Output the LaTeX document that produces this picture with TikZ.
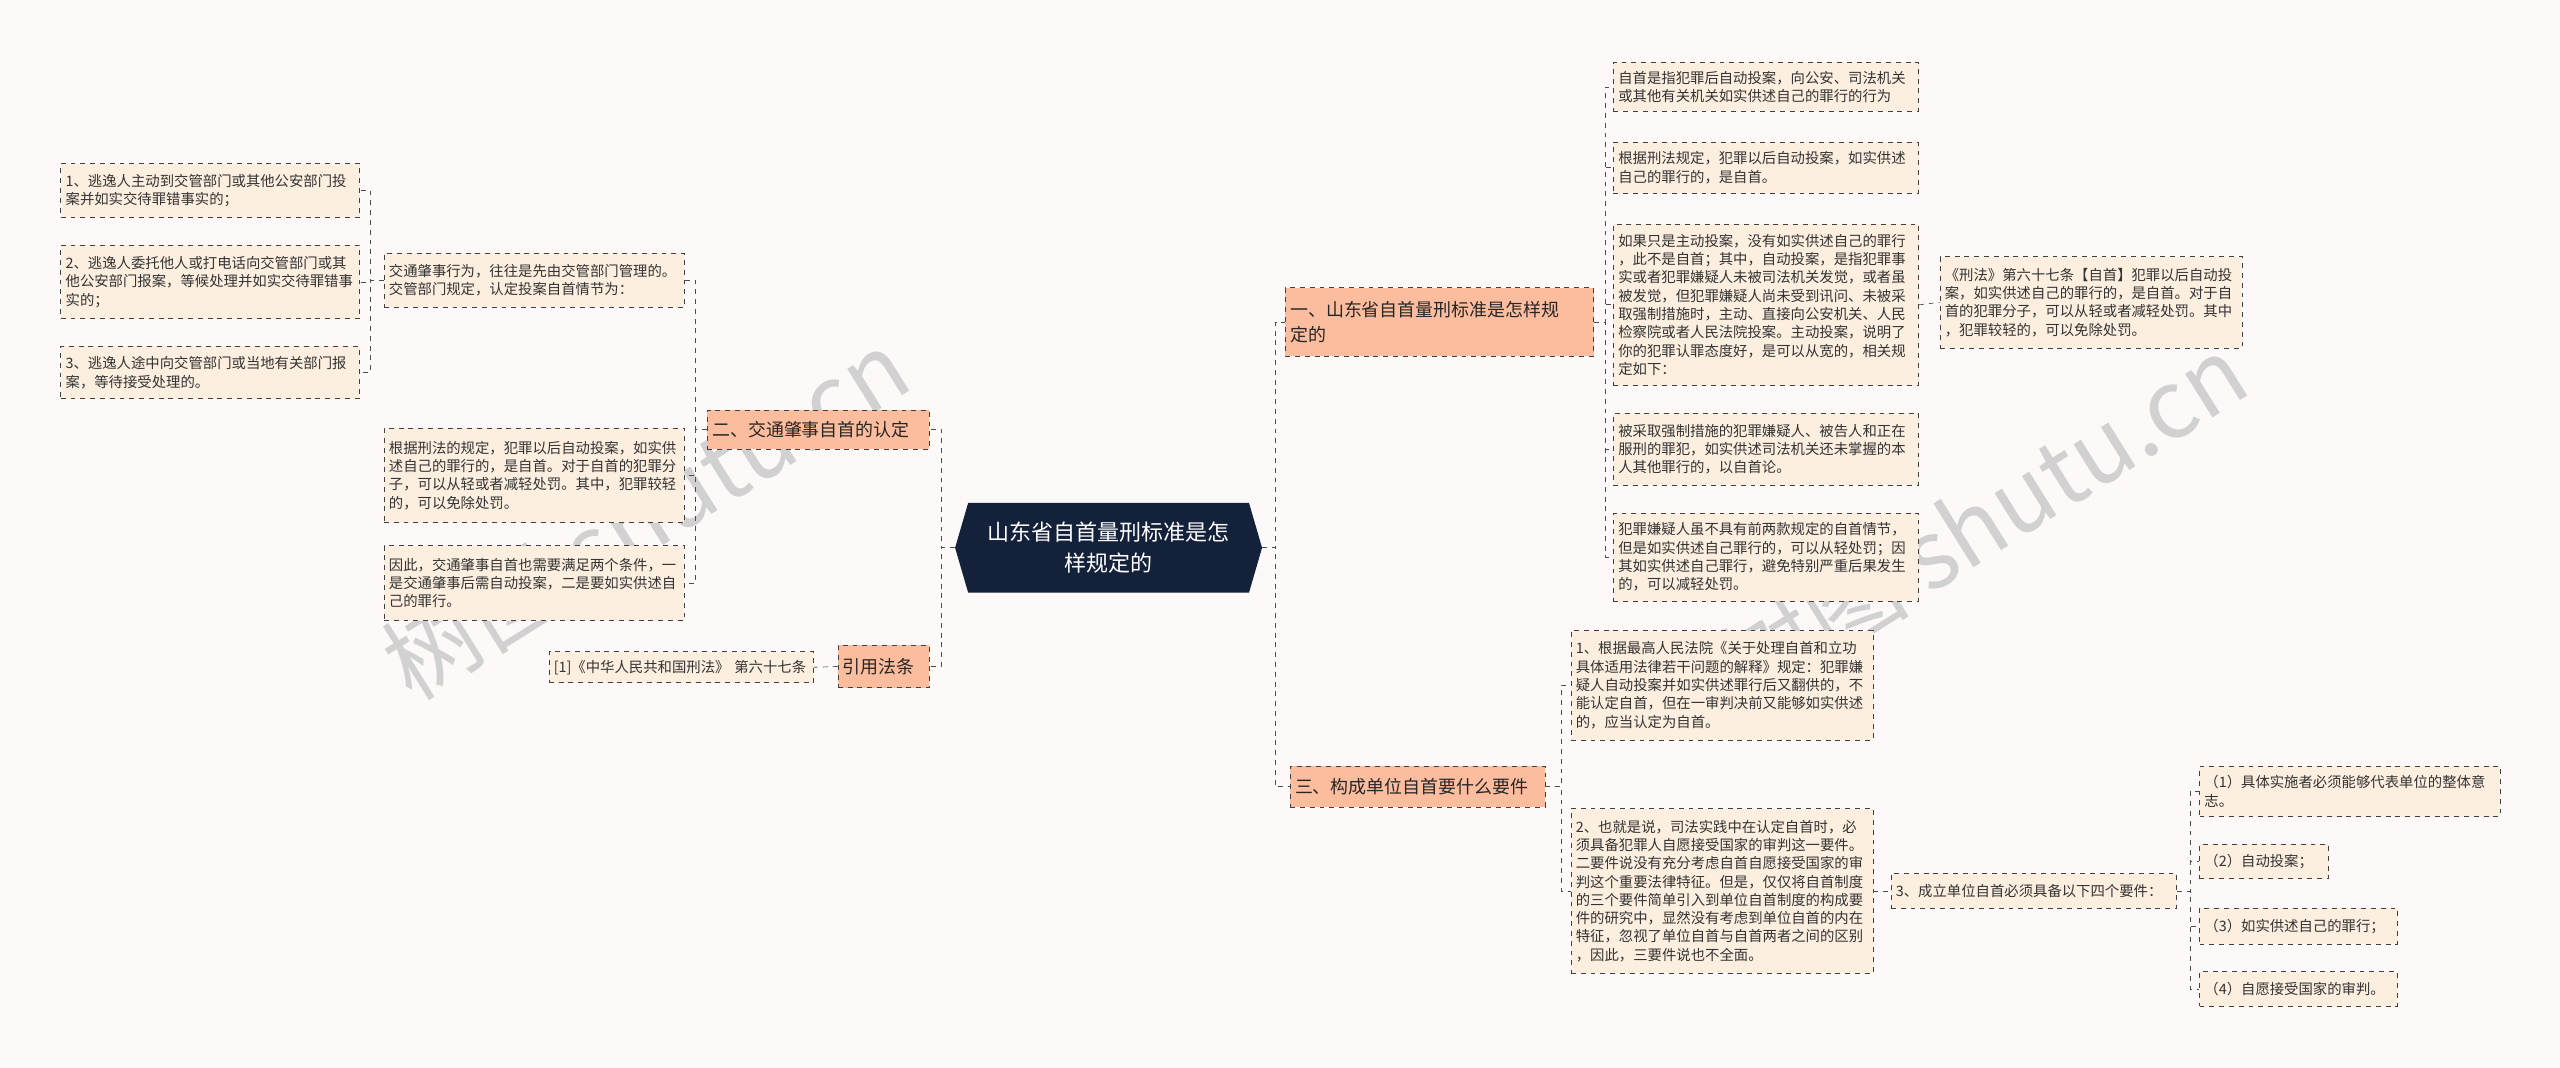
\documentclass[tikz,border=0pt]{standalone}
\usepackage{fontspec}
\setmainfont{Noto Sans CJK SC}
\XeTeXlinebreaklocale "zh"
\begin{document}
\begin{tikzpicture}[x=1pt,y=1pt,
  leaf/.style={draw=black!75, dashed, fill=leafc, inner sep=3pt, align=left, font=\fontsize{8.8}{11.2}\selectfont, text=black!80},
  branch/.style={draw=black!75, dashed, fill=branchc, inner sep=3pt, align=left, font=\fontsize{11}{15.5}\selectfont, text=black!85},
  conn/.style={draw=black!70, dashed, thin}]
\definecolor{bgc}{HTML}{FCF9F8}
\definecolor{leafc}{HTML}{FDEFDF}
\definecolor{branchc}{HTML}{FBBD9E}
\definecolor{navy}{HTML}{14213A}
\fill[bgc] (0,0) rectangle (1568,-654);
\useasboundingbox (0,0) rectangle (1568,-654);
\newcommand{\mkbox}[6]{%
  \pgfmathsetmacro\bw{#5-#3}\pgfmathsetmacro\bh{#6-#4}\pgfmathsetmacro\tw{#5-#3-5}%
  \node[#1, anchor=north west, minimum width=\bw pt, minimum height=\bh pt, text width=\tw pt] (#2) at (#3,-#4)}
% watermarks
\node[rotate=32, text=black!18, font=\fontsize{58}{60}\selectfont] at (395,-315) {树图 shutu.cn};
\node[rotate=32, text=black!18, font=\fontsize{58}{60}\selectfont] at (1215,-318) {树图 shutu.cn};
% center
\fill[navy] (585,-335.5) -- (593,-308) -- (765,-308) -- (773,-335.5) -- (765,-363) -- (593,-363) -- cycle;
\node[minimum width=188pt, minimum height=55pt, inner sep=0pt, align=center, text=white, font=\fontsize{13.5}{19}\selectfont] (c) at (679,-335.5) {山东省自首量刑标准是怎\\样规定的};
% left
\mkbox{branch}{b2}{433}{251}{568}{275}{二、交通肇事自首的认定};
\mkbox{branch}{b4}{513}{395}{568}{421}{引用法条};
\mkbox{leaf}{ref}{336}{399}{497}{418}{[1]《中华人民共和国刑法》 第六十七条};
\mkbox{leaf}{m1}{235}{155}{418}{188}{交通肇事行为，往往是先由交管部门管理的。\\交管部门规定，认定投案自首情节为：};
\mkbox{leaf}{m2}{235}{262}{418}{320}{根据刑法的规定，犯罪以后自动投案，如实供\\述自己的罪行的，是自首。对于自首的犯罪分\\子，可以从轻或者减轻处罚。其中，犯罪较轻\\的，可以免除处罚。};
\mkbox{leaf}{m3}{235}{334}{418}{380}{因此，交通肇事自首也需要满足两个条件，一\\是交通肇事后需自动投案，二是要如实供述自\\己的罪行。};
\mkbox{leaf}{l1}{37}{100}{219}{133}{1、逃逸人主动到交管部门或其他公安部门投\\案并如实交待罪错事实的；};
\mkbox{leaf}{l2}{37}{150}{219}{195}{2、逃逸人委托他人或打电话向交管部门或其\\他公安部门报案，等候处理并如实交待罪错事\\实的；};
\mkbox{leaf}{l3}{37}{212}{219}{244}{3、逃逸人途中向交管部门或当地有关部门报\\案，等待接受处理的。};
% right
\mkbox{branch}{b1}{787}{176}{975}{218}{一、山东省自首量刑标准是怎样规\\定的};
\mkbox{leaf}{r1}{988}{38}{1174}{68}{自首是指犯罪后自动投案，向公安、司法机关\\或其他有关机关如实供述自己的罪行的行为};
\mkbox{leaf}{r2}{988}{87}{1174}{118}{根据刑法规定，犯罪以后自动投案，如实供述\\自己的罪行的，是自首。};
\mkbox{leaf}{r3}{988}{137}{1174}{236}{如果只是主动投案，没有如实供述自己的罪行\\，此不是自首；其中，自动投案，是指犯罪事\\实或者犯罪嫌疑人未被司法机关发觉，或者虽\\被发觉，但犯罪嫌疑人尚未受到讯问、未被采\\取强制措施时，主动、直接向公安机关、人民\\检察院或者人民法院投案。主动投案，说明了\\你的犯罪认罪态度好，是可以从宽的，相关规\\定如下：};
\mkbox{leaf}{r3a}{1188}{157}{1372}{213}{《刑法》第六十七条【自首】犯罪以后自动投\\案，如实供述自己的罪行的，是自首。对于自\\首的犯罪分子，可以从轻或者减轻处罚。其中\\，犯罪较轻的，可以免除处罚。};
\mkbox{leaf}{r4}{988}{253}{1174}{297}{被采取强制措施的犯罪嫌疑人、被告人和正在\\服刑的罪犯，如实供述司法机关还未掌握的本\\人其他罪行的，以自首论。};
\mkbox{leaf}{r5}{988}{314}{1174}{368}{犯罪嫌疑人虽不具有前两款规定的自首情节，\\但是如实供述自己罪行的，可以从轻处罚；因\\其如实供述自己罪行，避免特别严重后果发生\\的，可以减轻处罚。};
\mkbox{branch}{b3}{790}{469}{945}{494}{三、构成单位自首要什么要件};
\mkbox{leaf}{s1}{962}{386}{1146}{453}{1、根据最高人民法院《关于处理自首和立功\\具体适用法律若干问题的解释》规定：犯罪嫌\\疑人自动投案并如实供述罪行后又翻供的，不\\能认定自首，但在一审判决前又能够如实供述\\的，应当认定为自首。};
\mkbox{leaf}{s2}{962}{495}{1146}{596}{2、也就是说，司法实践中在认定自首时，必\\须具备犯罪人自愿接受国家的审判这一要件。\\二要件说没有充分考虑自首自愿接受国家的审\\判这个重要法律特征。但是，仅仅将自首制度\\的三个要件简单引入到单位自首制度的构成要\\件的研究中，显然没有考虑到单位自首的内在\\特征，忽视了单位自首与自首两者之间的区别\\，因此，三要件说也不全面。};
\mkbox{leaf}{s3}{1158}{535}{1332}{556}{3、成立单位自首必须具备以下四个要件：};
\mkbox{leaf}{t1}{1347}{469}{1530}{500}{（1）具体实施者必须能够代表单位的整体意\\志。};
\mkbox{leaf}{t2}{1347}{517}{1425}{538}{（2）自动投案；};
\mkbox{leaf}{t3}{1347}{556}{1467}{578}{（3）如实供述自己的罪行；};
\mkbox{leaf}{t4}{1347}{595}{1467}{616}{（4）自愿接受国家的审判。};
% connectors
\foreach \t in {b1,b3} \draw[conn] (c.east) -- ++(8,0) |- (\t.west);
\foreach \t in {b2,b4} \draw[conn] (c.west) -- ++(-8,0) |- (\t.east);
\foreach \t in {r1,r2,r3,r4,r5} \draw[conn] (b1.east) -- ++(7,0) |- (\t.west);
\draw[conn] (r3.east) -- (r3a.west);
\foreach \t in {s1,s2} \draw[conn] (b3.east) -- ++(10,0) |- (\t.west);
\draw[conn] (s2.east) -- (s3.west);
\foreach \t in {t1,t2,t3,t4} \draw[conn] (s3.east) -- ++(8,0) |- (\t.west);
\foreach \t in {m1,m2,m3} \draw[conn] (b2.west) -- ++(-7,0) |- (\t.east);
\draw[conn] (b4.west) -- (ref.east);
\foreach \t in {l1,l2,l3} \draw[conn] (m1.west) -- ++(-8,0) |- (\t.east);
\end{tikzpicture}
\end{document}
